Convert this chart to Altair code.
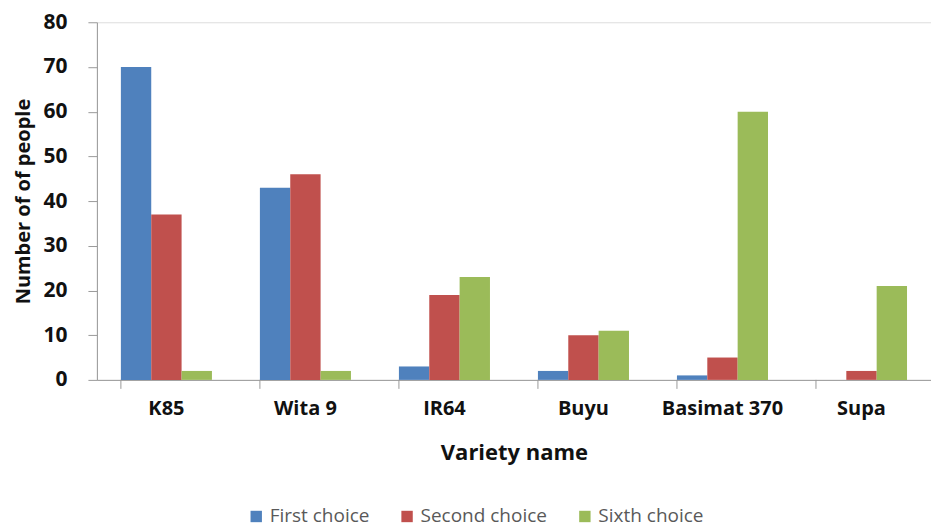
import altair as alt
import pandas as pd

varieties = ["K85", "Wita 9", "IR64", "Buyu", "Basimat 370", "Supa"]
choices = ["First choice", "Second choice", "Sixth choice"]
first_choice = [70, 43, 3, 2, 1, 0]
second_choice = [37, 46, 19, 10, 5, 2]
sixth_choice = [2, 2, 23, 11, 60, 21]
colors = ["#4F81BD", "#C0504D", "#9BBB59"]

rows = []
for series_name, vals in zip(choices, [first_choice, second_choice, sixth_choice]):
    for v, val in zip(varieties, vals):
        rows.append({"variety": v, "choice": series_name, "value": val})
df = pd.DataFrame(rows)
tick_df = pd.DataFrame({"variety": varieties})

FONT = "Open Sans"
AXIS_GRAY = "#9a9a9a"
H = 358

xscale = alt.Scale(domain=varieties, paddingInner=0.345, paddingOuter=0.1725)

bars = alt.Chart(df).mark_bar().encode(
    x=alt.X("variety:N", sort=varieties, scale=xscale,
            axis=alt.Axis(title="Variety name", labelAngle=0, ticks=False,
                          domainColor=AXIS_GRAY, labelFont=FONT, labelFontSize=20,
                          labelFontWeight="bold", labelColor="#111111", labelPadding=19,
                          titleFont=FONT, titleFontSize=22, titleFontWeight="bold",
                          titleColor="#111111", titlePadding=24)),
    xOffset=alt.XOffset("choice:N", sort=choices, scale=alt.Scale(paddingInner=0)),
    y=alt.Y("value:Q", scale=alt.Scale(domain=[0, 80], nice=False),
            axis=alt.Axis(title="Number of of people", values=list(range(0, 81, 10)),
                          grid=False, tickSize=9, tickColor=AXIS_GRAY, domainColor=AXIS_GRAY,
                          labelFont=FONT, labelFontSize=21, labelFontWeight="bold",
                          labelColor="#111111", labelPadding=21,
                          titleFont=FONT, titleFontSize=20, titleFontWeight="bold",
                          titleColor="#111111", titlePadding=9)),
    color=alt.Color("choice:N", sort=choices,
                    scale=alt.Scale(domain=choices, range=colors),
                    legend=alt.Legend(title=None, orient="none", direction="horizontal",
                                      legendX=150, legendY=485,
                                      symbolType="square", symbolSize=130,
                                      symbolStrokeWidth=0,
                                      labelFont=FONT, labelFontSize=19, labelColor="#595959",
                                      columnPadding=28)),
)

ticks = alt.Chart(tick_df).mark_rule(color=AXIS_GRAY, strokeWidth=1).encode(
    x=alt.X("variety:N", sort=varieties, scale=xscale, bandPosition=0),
    y=alt.value(H),
    y2=alt.value(H + 9),
)

chart = alt.layer(bars, ticks).properties(
    width=835, height=H,
    padding={"left": 5, "top": 3, "right": 0, "bottom": 0},
).configure_view(stroke=None).configure(background="white")

chart.save("out.html", embed_options={"renderer": "svg", "actions": False})
